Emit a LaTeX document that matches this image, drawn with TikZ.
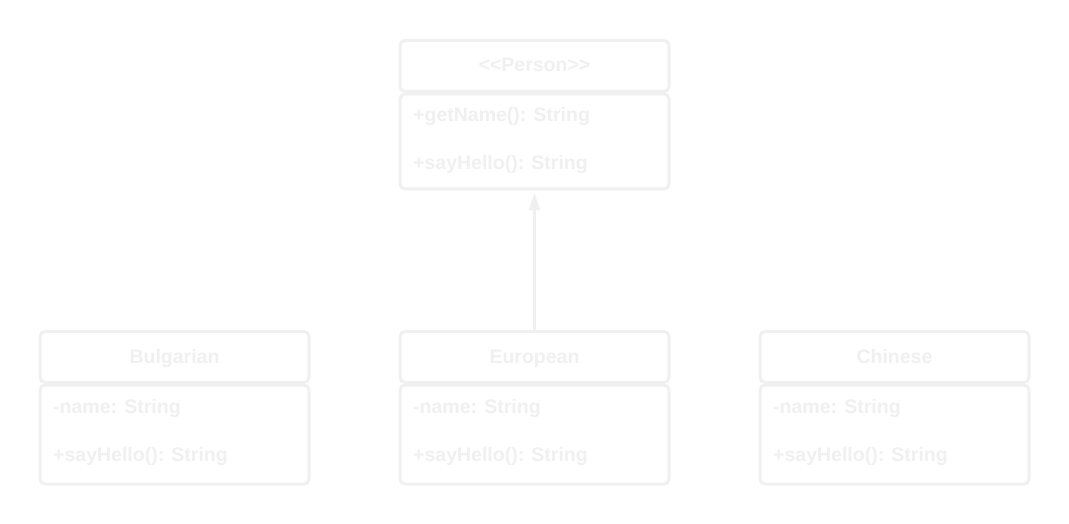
\documentclass[tikz,border=0pt]{standalone}
\usepackage{fontspec}
\setmainfont{Liberation Sans}[Ligatures=TeXOff]
\usetikzlibrary{arrows.meta,positioning}
\definecolor{lg}{RGB}{240,240,240}
\tikzset{
  box/.style={draw=lg,line width=3pt,rounded corners=5pt,minimum width=269pt,inner sep=0pt,fill=white},
  headbox/.style={box,minimum height=51pt},
  txt/.style={text=lg,font=\fontsize{19.5pt}{22pt}\selectfont\bfseries,inner sep=0pt},
  conn/.style={draw=lg,line width=3pt,-{Triangle[width=11pt,length=18pt]}}
}
\begin{document}
\begin{tikzpicture}[x=1pt,y=-1pt]
\useasboundingbox (0,0) rectangle (1069,524);
% Person
\node[headbox] (ph) at (534.5,66) {};
\node[box,minimum height=95pt] (pb) at (534.5,141.5) {};
\node[txt,anchor=base] (pt) at (534.5,72) {{<}{<}Person{>}{>}};
\node[txt,anchor=base west] (p1) at (413,122) {+getName(): String};
\node[txt,anchor=base west] (p2) at (413,170) {+sayHello(): String};
% Bulgarian
\node[headbox] (bh) at (174.5,357) {};
\node[box,minimum height=99pt] (bb) at (174.5,434.5) {};
\node[txt,anchor=base] (bt) at (174.5,363) {Bulgarian};
\node[txt,anchor=base west] (b1) at (53,413) {-name: String};
\node[txt,anchor=base west] (b2) at (53,461) {+sayHello(): String};
% European
\node[headbox] (eh) at (534.5,357) {};
\node[box,minimum height=99pt] (eb) at (534.5,434.5) {};
\node[txt,anchor=base] (et) at (534.5,363) {European};
\node[txt,anchor=base west] (e1) at (413,413) {-name: String};
\node[txt,anchor=base west] (e2) at (413,461) {+sayHello(): String};
% Chinese
\node[headbox] (ch) at (894.5,357) {};
\node[box,minimum height=99pt] (cb) at (894.5,434.5) {};
\node[txt,anchor=base] (ct) at (894.5,363) {Chinese};
\node[txt,anchor=base west] (c1) at (773,413) {-name: String};
\node[txt,anchor=base west] (c2) at (773,461) {+sayHello(): String};
% arrow
\draw[conn] (eh.north) -- ([yshift=-2pt]pb.south);
\end{tikzpicture}
\end{document}
